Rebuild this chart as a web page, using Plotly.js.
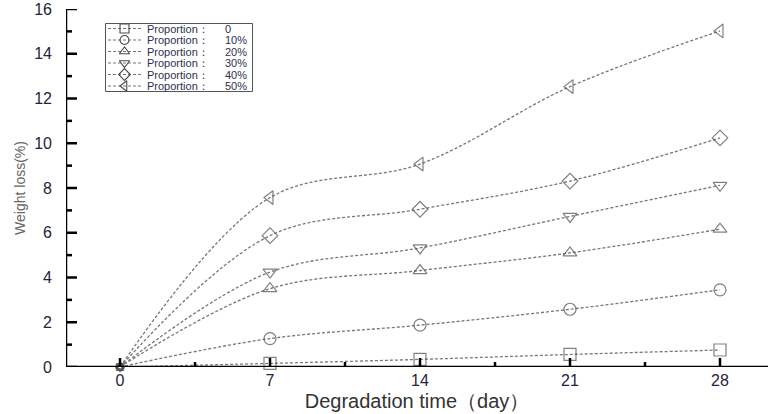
<!DOCTYPE html>
<html>
<head>
<meta charset="utf-8">
<script src="https://cdn.plot.ly/plotly-3.0.1.min.js"></script>
<style>html,body{margin:0;padding:0;background:#fff;}#chart{width:768px;height:414px;}</style>
</head>
<body>
<div id="chart"></div>
<script>
// ---- data ----
const days = [0, 7, 14, 21, 28];
const seriesLabels = ["0", "10%", "20%", "30%", "40%", "50%"];
const legendPrefix = "Proportion：";
const loss0  = [0, 0.16, 0.34, 0.56, 0.76];
const loss10 = [0, 1.27, 1.87, 2.58, 3.45];
const loss20 = [0, 3.50, 4.31, 5.10, 6.16];
const loss30 = [0, 4.24, 5.32, 6.73, 8.12];
const loss40 = [0, 5.87, 7.05, 8.31, 10.24];
const loss50 = [0, 7.57, 9.07, 12.53, 15.02];
const xTicks = [0, 7, 14, 21, 28];
const xMinorTicks = [3.5, 10.5, 17.5, 24.5];
const yTicks = [0, 2, 4, 6, 8, 10, 12, 14, 16];
const yMinorTicks = [1, 3, 5, 7, 9, 11, 13, 15];
const xTitle = "Degradation time（day）";
const yTitle = "Weight loss(%)";

// ---- styles ----
const allSeries = [loss0, loss10, loss20, loss30, loss40, loss50];
const symbols = ["square-open", "circle-open", "triangle-up-open", "triangle-down-open", "diamond-open", "triangle-left-open"];
const lineStyle = {color: "#777777", width: 1.3, dash: "3px,2px", shape: "spline", smoothing: 1};
const markerColor = "#4a4a4a";
const font = "Liberation Sans, Arial, sans-serif";
const xRange = [-2.52, 30.24];
const yRange = [0, 16.0001];
const plotL = 66, plotR = 768, plotT = 9, plotB = 367;
const plotW = plotR - plotL, plotH = plotB - plotT;
const xPerPx = (xRange[1] - xRange[0]) / plotW;
const yPerPx = (yRange[1] - yRange[0]) / plotH;

const traces = [];
allSeries.forEach((ys, i) => {
  traces.push({
    x: days, y: ys, type: "scatter", mode: "lines+markers",
    line: lineStyle,
    marker: {symbol: symbols[i], size: [7, 12, 12, 12, 12], color: markerColor, line: {color: markerColor, width: 1.2}},
    cliponaxis: false, showlegend: false, hoverinfo: "skip"
  });
});

// ---- axis frame and tick marks, drawn through the axes' own scales ----
function segs(list, mk) { const xs = [], ys = []; list.forEach(v => { const s = mk(v); xs.push(s[0], s[1], null); ys.push(s[2], s[3], null); }); return [xs, ys]; }
const xMaj = segs(xTicks, v => [v, v, yRange[0], yRange[0] + 9 * yPerPx]);
const xMin = segs(xMinorTicks, v => [v, v, yRange[0], yRange[0] + 5 * yPerPx]);
const yMaj = segs(yTicks, v => [xRange[0], xRange[0] + 11 * xPerPx, v, v]);
const yMin = segs(yMinorTicks, v => [xRange[0], xRange[0] + 6 * xPerPx, v, v]);
const frame = [[xRange[1], xRange[0], xRange[0]], [yRange[0], yRange[0], yRange[1]]];
[xMaj, xMin, yMaj, yMin, frame].forEach(s => traces.push({
  x: s[0], y: s[1], type: "scatter", mode: "lines", line: {color: "#000000", width: 2.5},
  connectgaps: false, cliponaxis: false, showlegend: false, hoverinfo: "skip"
}));

// ---- custom legend: a small subplot whose axes are in pixel units ----
const legX0 = 105, legX1 = 253, legY0 = 23, legY1 = 92;
const rowY = i => 28.5 + i * 11.5;
const annotations = [];
seriesLabels.forEach((lab, i) => {
  traces.push({
    x: [108, 141], y: [rowY(i), rowY(i)], xaxis: "x2", yaxis: "y2",
    type: "scatter", mode: "lines", line: {color: "#777777", width: 1.2, dash: "3px,2px"},
    showlegend: false, hoverinfo: "skip"
  });
  traces.push({
    x: [124.5], y: [rowY(i)], xaxis: "x2", yaxis: "y2",
    type: "scatter", mode: "markers",
    marker: {symbol: symbols[i], size: 9, color: markerColor, line: {color: markerColor, width: 1.1}},
    showlegend: false, hoverinfo: "skip"
  });
  annotations.push({x: 145, y: rowY(i), xref: "x2", yref: "y2", text: legendPrefix, showarrow: false,
    xanchor: "left", yanchor: "middle", font: {family: font, size: 11, color: "#2b3150"}});
  annotations.push({x: 223, y: rowY(i), xref: "x2", yref: "y2", text: lab, showarrow: false,
    xanchor: "left", yanchor: "middle", font: {family: font, size: 11, color: "#2b3150"}});
});
// legend border
traces.push({x: [legX0 + 0.5, legX1 - 0.5, legX1 - 0.5, legX0 + 0.5, legX0 + 0.5],
  y: [legY0 + 0.5, legY0 + 0.5, legY1 - 0.5, legY1 - 0.5, legY0 + 0.5], xaxis: "x2", yaxis: "y2",
  type: "scatter", mode: "lines", line: {color: "#555555", width: 1}, cliponaxis: false, showlegend: false, hoverinfo: "skip"});

const layout = {
  width: 768, height: 414,
  margin: {l: plotL, r: 768 - plotR, t: plotT, b: 414 - plotB, pad: 0},
  paper_bgcolor: "#ffffff", plot_bgcolor: "#ffffff",
  showlegend: false,
  xaxis: {
    range: xRange, tickmode: "array", tickvals: xTicks, ticktext: xTicks.map(String),
    ticks: "", showline: false, showgrid: false, zeroline: false,
    tickfont: {family: font, size: 16, color: "#1f2440"},
    ticklabelstandoff: 2,
    title: {text: xTitle, font: {family: font, size: 20, color: "#333"}, standoff: 5},
    domain: [0, 1], anchor: "y", fixedrange: true
  },
  yaxis: {
    range: yRange, tickmode: "array", tickvals: yTicks, ticktext: yTicks.map(String),
    ticks: "", showline: false, showgrid: false, zeroline: false,
    tickfont: {family: font, size: 16, color: "#1f2440"},
    ticklabeloverflow: "allow", ticklabelstandoff: 13,
    title: {text: yTitle, font: {family: font, size: 14, color: "#666"}, standoff: 5},
    domain: [0, 1], anchor: "x", fixedrange: true
  },
  xaxis2: {domain: [(legX0 - plotL) / plotW, (legX1 - plotL) / plotW],
    range: [legX0, legX1], anchor: "y2", visible: false, fixedrange: true},
  yaxis2: {domain: [(plotB - legY1) / plotH, (plotB - legY0) / plotH],
    range: [legY1, legY0], anchor: "x2", visible: false, fixedrange: true},
  annotations: annotations
};

Plotly.newPlot("chart", traces, layout, {staticPlot: true, displayModeBar: false});
</script>
</body>
</html>
